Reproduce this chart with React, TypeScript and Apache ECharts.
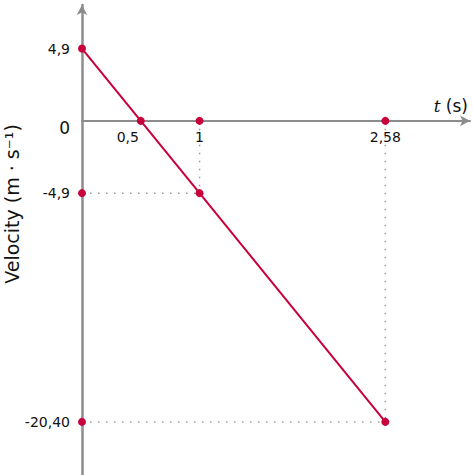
import React, { useEffect, useRef } from "react";
import * as echarts from "echarts";

// Data
const lineT = [0, 0.5, 1, 2.58];
const lineV = [4.9, 0, -4.9, -20.4];
const axisPtT = [1, 2.58, 0, 0];
const axisPtV = [0, 0, -4.9, -20.4];
const xTicks = [0.5, 1, 2.58];
const xTickLabels = ["0,5", "1", "2,58"];
const yTicks = [4.9, 0, -4.9, -20.4];
const yTickLabels = ["4,9", "0", "-4,9", "-20,40"];
// guide lines: [t, v] corners (from point on line down/left to axes)
const guidePts = [
  [1, -4.9],
  [2.58, -20.4],
];

const RED = "#c8003c";
const GRAY = "#8c8c8c";
const FONT = "DejaVu Sans";

export default function App() {
  const ref = useRef<HTMLDivElement>(null);
  useEffect(() => {
    const chart = echarts.init(ref.current!, null, { renderer: "svg" });
    const guideSeries: any[] = [];
    guidePts.forEach(([t, v]) => {
      guideSeries.push({
        type: "line",
        data: [[0, v], [t, v]],
        symbol: "none",
        silent: true,
        lineStyle: { color: "#999", width: 1.5, type: [1.5, 6.5] },
        z: 1,
      });
      guideSeries.push({
        type: "line",
        data: [[t, 0], [t, v]],
        symbol: "none",
        silent: true,
        lineStyle: { color: "#999", width: 1.5, type: [1.5, 6.5] },
        z: 1,
      });
    });
    const option: any = {
      animation: false,
      grid: { left: 82, top: 5, right: 3, bottom: 0, containLabel: false, outerBoundsMode: "none" },
      xAxis: {
        type: "value",
        min: 0,
        max: 3.3,
        splitLine: { show: false },
        axisTick: { show: false },
        axisLabel: { show: false },
        axisLine: {
          onZero: true,
          symbol: ["none", "arrow"],
          symbolSize: [8, 10],
          lineStyle: { color: GRAY, width: 2 },
        },
      },
      yAxis: {
        type: "value",
        min: -24,
        max: 7.85,
        splitLine: { show: false },
        axisTick: { show: false },
        axisLine: {
          symbol: ["none", "arrow"],
          symbolSize: [8, 10],
          lineStyle: { color: GRAY, width: 2.5 },
        },
        axisLabel: {
          customValues: yTicks,
          margin: 12,
          color: "#111",
          fontFamily: FONT,
          fontSize: 14,
          formatter: (v: number) => {
            const i = yTicks.indexOf(v);
            const s = i >= 0 ? yTickLabels[i] : "";
            return v === 0 ? "{z|" + s + "}" : s;
          },
          rich: { z: { fontFamily: FONT, fontSize: 17, color: "#111", padding: [14, 0, 0, 0] } },
        },
      },
      graphic: [
        {
          type: "text",
          x: 12,
          y: 204,
          rotation: Math.PI / 2,
          style: {
            text: "Velocity (m · s⁻¹)",
            fontFamily: FONT,
            fontSize: 19,
            fill: "#111",
            align: "center",
            verticalAlign: "middle",
          },
        },
        {
          type: "text",
          x: 468,
          y: 106,
          style: {
            text: "{i|t} (s)",
            fontFamily: FONT,
            fontSize: 17,
            fill: "#111",
            align: "right",
            verticalAlign: "middle",
            rich: {
              i: { fontFamily: "DejaVu Serif", fontStyle: "italic", fontSize: 17, fill: "#111" },
            },
          },
        },
      ],
      series: [
        ...guideSeries,
        {
          type: "line",
          data: lineT.map((t, i) => [t, lineV[i]]),
          symbol: "circle",
          symbolSize: 8,
          itemStyle: { color: RED, opacity: 1 },
          lineStyle: { color: RED, width: 2 },
          z: 3,
        },
        {
          type: "scatter",
          data: axisPtT.map((t, i) => [t, axisPtV[i]]),
          symbol: "circle",
          symbolSize: 8,
          itemStyle: { color: RED, opacity: 1 },
          z: 4,
        },
        {
          // x tick labels placed on the t axis
          type: "scatter",
          silent: true,
          symbolSize: 0,
          itemStyle: { opacity: 1 },
          data: xTicks.map((t, i) => ({
            value: [t, 0],
            label: {
              show: true,
              position: "bottom",
              distance: 9,
              offset: [i === 0 ? -13 : 0, 0],
              formatter: xTickLabels[i],
              color: "#111",
              fontFamily: FONT,
              fontSize: 14,
            },
          })),
          z: 5,
        },
      ],
    };
    chart.setOption(option);
    return () => chart.dispose();
  }, []);
  return (
    <div
      ref={ref}
      style={{ position: "fixed", left: 0, top: 0, width: 473, height: 475, background: "#fff" }}
    />
  );
}
